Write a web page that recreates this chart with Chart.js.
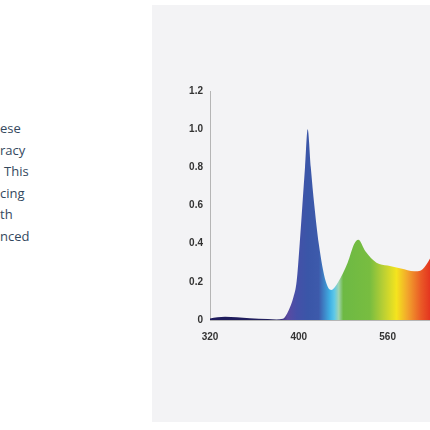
<!DOCTYPE html>
<html>
<head>
<script src="https://cdn.jsdelivr.net/npm/chart.js"></script>
<style>
  body { margin: 0; background: #fff; width: 430px; height: 430px; overflow: hidden; position: relative; }
  .copy { position: absolute; left: 0; top: 118px; font-family: "Open Sans", sans-serif; font-size: 13px; line-height: 21.6px; color: #34485e; }
  .panel { position: absolute; left: 152px; top: 5px; width: 278px; height: 417px; background: #f3f3f5; }
  #chartWrap { position: absolute; left: 152px; top: 5px; width: 287px; height: 417px; }
</style>
</head>
<body>
<div class="copy">
  <div>ese</div>
  <div>racy</div>
  <div style="padding-left:4px">This</div>
  <div>cing</div>
  <div>th</div>
  <div>nced</div>
</div>
<div class="panel"></div>
<div id="chartWrap"><canvas id="spectrum"></canvas></div>
<script>
// x positions are tick steps along the axis (0 = 320 label, 2 = 400, 4 = 560)
const xTickLabels = ['320', '', '400', '', '560', ''];
const yTickValues = [0, 0.2, 0.4, 0.6, 0.8, 1.0, 1.2];

const spectrumX = [0, 0.17, 0.34, 0.6, 0.9, 1.3, 1.5, 1.64, 1.77, 1.88, 1.95, 2.02, 2.08, 2.14, 2.2,
                   2.27, 2.35, 2.45, 2.61, 2.73, 2.89, 3.1, 3.25, 3.34, 3.5, 3.75, 4.0, 4.3, 4.6, 4.75, 4.9, 5.0];
const spectrumY = [0.008, 0.014, 0.017, 0.014, 0.009, 0.005, 0.003, 0.006, 0.05, 0.12, 0.2, 0.4, 0.6, 0.8, 1.0,
                   0.8, 0.6, 0.4, 0.2, 0.157, 0.2, 0.3, 0.4, 0.42, 0.36, 0.3, 0.285, 0.27, 0.255, 0.26, 0.3, 0.34];

// rainbow colour stops along the x axis
const colorStops = [
  [0, '#1e1b5c'], [1.5, '#22205e'], [1.75, '#5a4aa2'], [1.95, '#4550a8'], [2.2, '#3a56a8'],
  [2.45, '#3d5aab'], [2.7, '#3fb0e4'], [2.8, '#5ec8e8'], [2.9, '#a0d4b0'], [3.0, '#6db944'],
  [3.6, '#78bd40'], [3.9, '#b8cf34'], [4.2, '#f4e41e'], [4.45, '#f2a52c'], [4.75, '#ea5a26'], [5.0, '#e22d1e']
];

const points = spectrumX.map((x, i) => ({x: x, y: spectrumY[i]}));

function rainbow(context) {
  const chart = context.chart;
  const area = chart.chartArea;
  if (!area) return '#3a56a8';
  const xs = chart.scales.x;
  const g = chart.ctx.createLinearGradient(area.left, 0, area.right, 0);
  const w = area.right - area.left;
  colorStops.forEach(s => {
    let p = (xs.getPixelForValue(s[0]) - area.left) / w;
    g.addColorStop(Math.min(1, Math.max(0, p)), s[1]);
  });
  return g;
}

new Chart(document.getElementById('spectrum'), {
  type: 'line',
  data: {
    datasets: [{
      data: points,
      fill: 'origin',
      backgroundColor: rainbow,
      borderWidth: 0,
      pointRadius: 0,
      cubicInterpolationMode: 'monotone'
    }]
  },
  options: {
    responsive: true,
    maintainAspectRatio: false,
    animation: false,
    layout: { padding: { top: 86, right: 0, bottom: 69, left: 0 } },
    plugins: { legend: { display: false }, tooltip: { enabled: false } },
    scales: {
      x: {
        type: 'linear',
        min: 0,
        max: 5,
        afterBuildTicks: axis => { axis.ticks = xTickLabels.map((l, i) => ({value: i})); },
        afterFit: axis => { axis.height = 33; },
        grid: { display: false, drawTicks: true, tickLength: 4 },
        border: { color: '#b5b5b5', width: 1 },
        ticks: {
          autoSkip: false,
          maxRotation: 0,
          padding: 7,
          color: '#333',
          font: { family: 'Liberation Sans', size: 10, weight: 'bold' },
          callback: (v, i) => xTickLabels[i]
        }
      },
      y: {
        min: 0,
        max: 1.2,
        afterBuildTicks: axis => { axis.ticks = yTickValues.map(v => ({value: v})); },
        afterFit: axis => { axis.width = 58; },
        grid: { display: false, drawTicks: true, tickLength: 3 },
        border: { color: '#b5b5b5', width: 1 },
        ticks: {
          padding: 4,
          color: '#333',
          font: { family: 'Liberation Sans', size: 10, weight: 'bold' },
          callback: v => v === 0 ? '0' : v.toFixed(1)
        }
      }
    }
  }
});
</script>
</body>
</html>
